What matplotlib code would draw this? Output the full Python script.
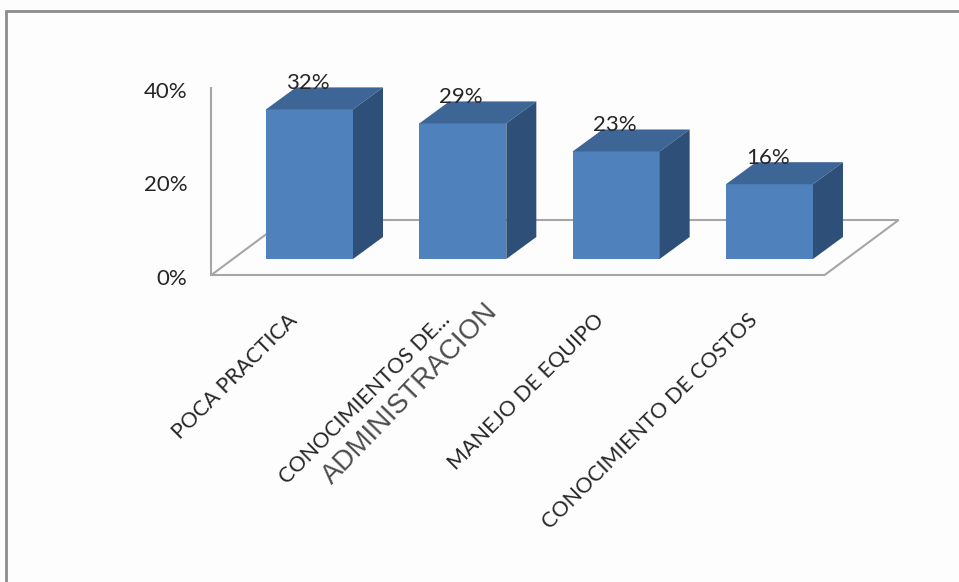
import matplotlib
matplotlib.use("Agg")
import matplotlib.pyplot as plt
from matplotlib.patches import Polygon, Rectangle

# data
categories = ["POCA PRACTICA", "CONOCIMIENTOS DE...", "MANEJO DE EQUIPO", "CONOCIMIENTO DE COSTOS"]
values = [32, 29, 23, 16]
y_ticks = [0, 20, 40]
overlay_text = "ADMINISTRACION"

# colours
c_front = "#4F81BD"
c_top = "#3D6596"
c_side = "#2E5078"
c_line = "#a6a6a6"
c_text = "#262626"

W, H = 959, 582
fig = plt.figure(figsize=(W / 100, H / 100), dpi=100, facecolor="#fdfdfd")
ax = fig.add_axes([0, 0, 1, 1])
ax.set_facecolor("#fdfdfd")

# pixel scale of the chart (category units / percent units)
px_cat = 153.33
px_pct = 4.675
x0_px, y0_px = 309.5, 259
ax.set_xlim(-x0_px / px_cat, (W - x0_px) / px_cat)
ax.set_ylim((y0_px - H) / px_pct, y0_px / px_pct)
ax.axis("off")

# fake 3d offsets
bw = 87 / px_cat
dx, dy = 30 / px_cat, 22 / px_pct          # bar depth
fx, fy = -21.5 / px_cat, -16 / px_pct      # floor front edge
bx, by = 52.5 / px_cat, 39 / px_pct        # floor back edge

xs = list(range(len(values)))
xl, xr = -0.5, len(values) - 0.5

# floor
floor = Polygon([(xl + fx, fy), (xr + fx, fy), (xr + bx, by), (xl + bx, by)],
                closed=True, fill=False, ec=c_line, lw=1.5, zorder=1)
ax.add_patch(floor)
# vertical axis
ax.plot([xl + fx, xl + fx], [fy, max(y_ticks) + fy], color=c_line, lw=1.5, zorder=1)

for t in y_ticks:
    ax.text(xl + fx - 24 / px_cat, t + fy - 0.8, f"{t}%", ha="right", va="center",
            fontsize=16, color=c_text, family="Lato")

# bars
ax.bar(xs, values, width=bw, color=c_front, zorder=3)
for x, v in zip(xs, values):
    l, r = x - bw / 2, x + bw / 2
    ax.add_patch(Polygon([(l, v), (r, v), (r + dx, v + dy), (l + dx, v + dy)],
                         closed=True, fc=c_top, ec="none", zorder=3))
    ax.add_patch(Polygon([(r, 0), (r + dx, dy), (r + dx, v + dy), (r, v)],
                         closed=True, fc=c_side, ec="none", zorder=3))
    ax.text(x - 0.01, v + dy + 0.9, f"{v}%", ha="center", va="center",
            fontsize=16, color=c_text, family="Lato", zorder=4)

# category labels
for x, lab in zip(xs, categories):
    ax.text(x - 0.072, -13.3, lab, rotation=45, rotation_mode="anchor",
            ha="right", va="baseline", fontsize=15.5, color=c_text, family="Lato")

# text pasted over the second label
ax.text(1 - 53 / px_cat, -28.9, overlay_text, rotation=46, rotation_mode="anchor",
        ha="center", va="center", fontsize=20, color="#4d4d4d",
        family="Liberation Sans", zorder=5)

# outer frame
fig.add_artist(Rectangle((5.5 / W, -0.1), 1.2, 1.1 - 10.5 / H, transform=fig.transFigure,
                         fill=False, ec="#8c8c8c", lw=2))

fig.savefig("out.png", dpi=100, facecolor=fig.get_facecolor())
